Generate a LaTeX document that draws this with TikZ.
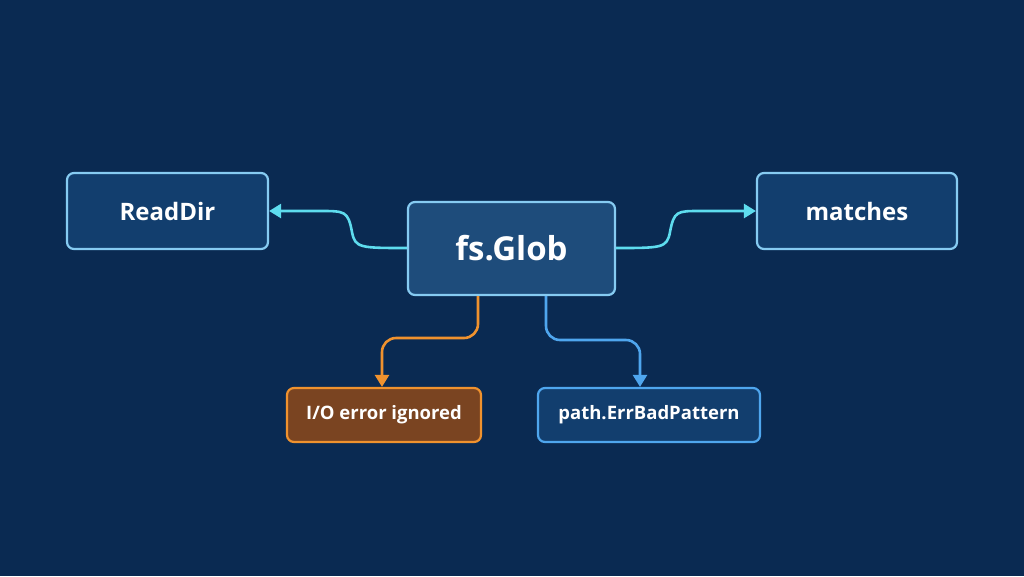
\documentclass[tikz,border=0pt]{standalone}
\usepackage{fontspec}
\setmainfont{Open Sans}
\usetikzlibrary{arrows.meta}
\definecolor{bg}{HTML}{0A2A52}
\definecolor{cy}{HTML}{5EDCEE}
\definecolor{bd}{HTML}{86CBF2}
\definecolor{fb}{HTML}{123E6E}
\definecolor{or}{HTML}{F0922E}
\definecolor{br}{HTML}{7A4421}
\definecolor{bl}{HTML}{4FA6EE}
\begin{document}
\begin{tikzpicture}[x=1pt,y=-1pt,
 box/.style={draw=bd,line width=2.2pt,fill=fb,rounded corners=7pt,text=white,inner sep=0pt,font=\bfseries},
 con/.style={line width=2.6pt,-{Triangle[length=12pt,width=14pt]},rounded corners=14pt}]
\fill[bg] (0,0) rectangle (1024,576);
\useasboundingbox (0,0) rectangle (1024,576);
\node[box,minimum width=201pt,minimum height=76pt,font=\bfseries\fontsize{24}{28}\selectfont] (rd) at (167.5,211) {ReadDir};
\node[box,minimum width=207pt,minimum height=93pt,fill=fb!90!bd,font=\bfseries\fontsize{33}{38}\selectfont] (gl) at (511.5,248.5) {fs.Glob};
\node[box,minimum width=200pt,minimum height=76pt,font=\bfseries\fontsize{24}{28}\selectfont] (ma) at (857,211) {matches};
\node[box,draw=or,fill=br,minimum width=194pt,minimum height=54pt,font=\bfseries\fontsize{18.5}{22}\selectfont] (io) at (384,415) {I/O error ignored};
\node[box,draw=bl,minimum width=222pt,minimum height=54pt,font=\bfseries\fontsize{18.5}{22}\selectfont] (pe) at (649,415) {path.ErrBadPattern};
\draw[con,cy,rounded corners=0pt] (gl.west|-0,248) .. controls (360,248) and (355,248) .. (352,232) .. controls (348,211) and (345,211) .. (320,211) -- (rd.east);
\draw[con,cy,rounded corners=0pt] (gl.east|-0,248) .. controls (662,248) and (667,248) .. (670,232) .. controls (674,211) and (677,211) .. (700,211) -- (ma.west);
\draw[con,or] (478,0|-gl.south) -- (478,338) -- (382,338) -- (382,0|-io.north);
\draw[con,bl] (546,0|-gl.south) -- (546,340) -- (640,340) -- (640,0|-pe.north);
\end{tikzpicture}
\end{document}
